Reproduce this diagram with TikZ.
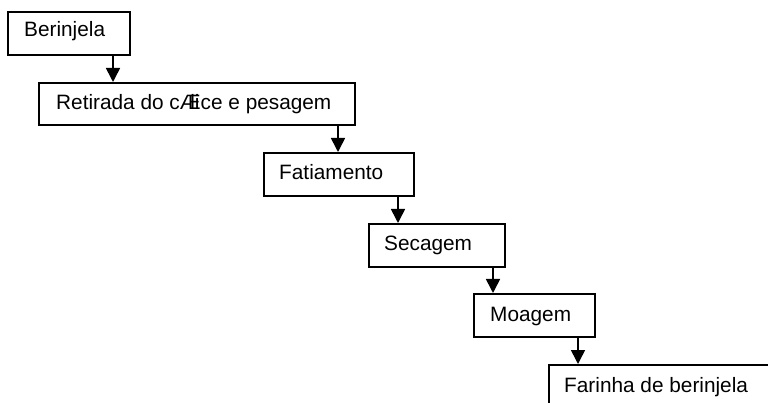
\documentclass[tikz,border=0pt]{standalone}
\usepackage{fontspec}
\setmainfont{Liberation Sans}
\usetikzlibrary{arrows.meta}
\begin{document}
\begin{tikzpicture}[x=1pt,y=-1pt,
  box/.style={draw,line width=1.6pt,rectangle,inner sep=0pt,anchor=north west},
  lbl/.style={anchor=base west,inner sep=0pt,font=\fontsize{20.8}{24}\selectfont},
  flow/.style={line width=1.6pt,-{Triangle[width=14pt,length=14pt]}}]
\useasboundingbox (0,0) rectangle (768,403);
\clip (0,0) rectangle (768,403);
\fill[white] (0,0) rectangle (768,403);
% boxes
\node[box,minimum width=122pt,minimum height=43pt] (b1) at (7,11) {};
\node[box,minimum width=316pt,minimum height=42pt] (b2) at (38,82) {};
\node[box,minimum width=150pt,minimum height=43pt] (b3) at (263,152) {};
\node[box,minimum width=136pt,minimum height=43pt] (b4) at (368,223) {};
\node[box,minimum width=121pt,minimum height=43pt] (b5) at (473,293) {};
\node[box,minimum width=260pt,minimum height=60pt] (b6) at (548,364) {};
% labels
\node[lbl] (t1) at (24,37) {Berinjela};
\node[lbl] (t2) at (56,110) {Retirada do c\rlap{Æ}\hspace{0.5em}\rlap{li}\hspace{0.5em}ce e pesagem};
\node[lbl] (t3) at (279,180) {Fatiamento};
\node[lbl] (t4) at (384,251) {Secagem};
\node[lbl] (t5) at (490,321) {Moagem};
\node[lbl] (t6) at (564,392) {Farinha de berinjela};
% arrow columns
\coordinate (a1) at (113,0);
\coordinate (a2) at (338,0);
\coordinate (a3) at (398,0);
\coordinate (a4) at (493,0);
\coordinate (a5) at (578,0);
\draw[flow] (a1 |- b1.south) -- (a1 |- b2.north);
\draw[flow] (a2 |- b2.south) -- (a2 |- b3.north);
\draw[flow] (a3 |- b3.south) -- (a3 |- b4.north);
\draw[flow] (a4 |- b4.south) -- (a4 |- b5.north);
\draw[flow] (a5 |- b5.south) -- (a5 |- b6.north);
\end{tikzpicture}
\end{document}
